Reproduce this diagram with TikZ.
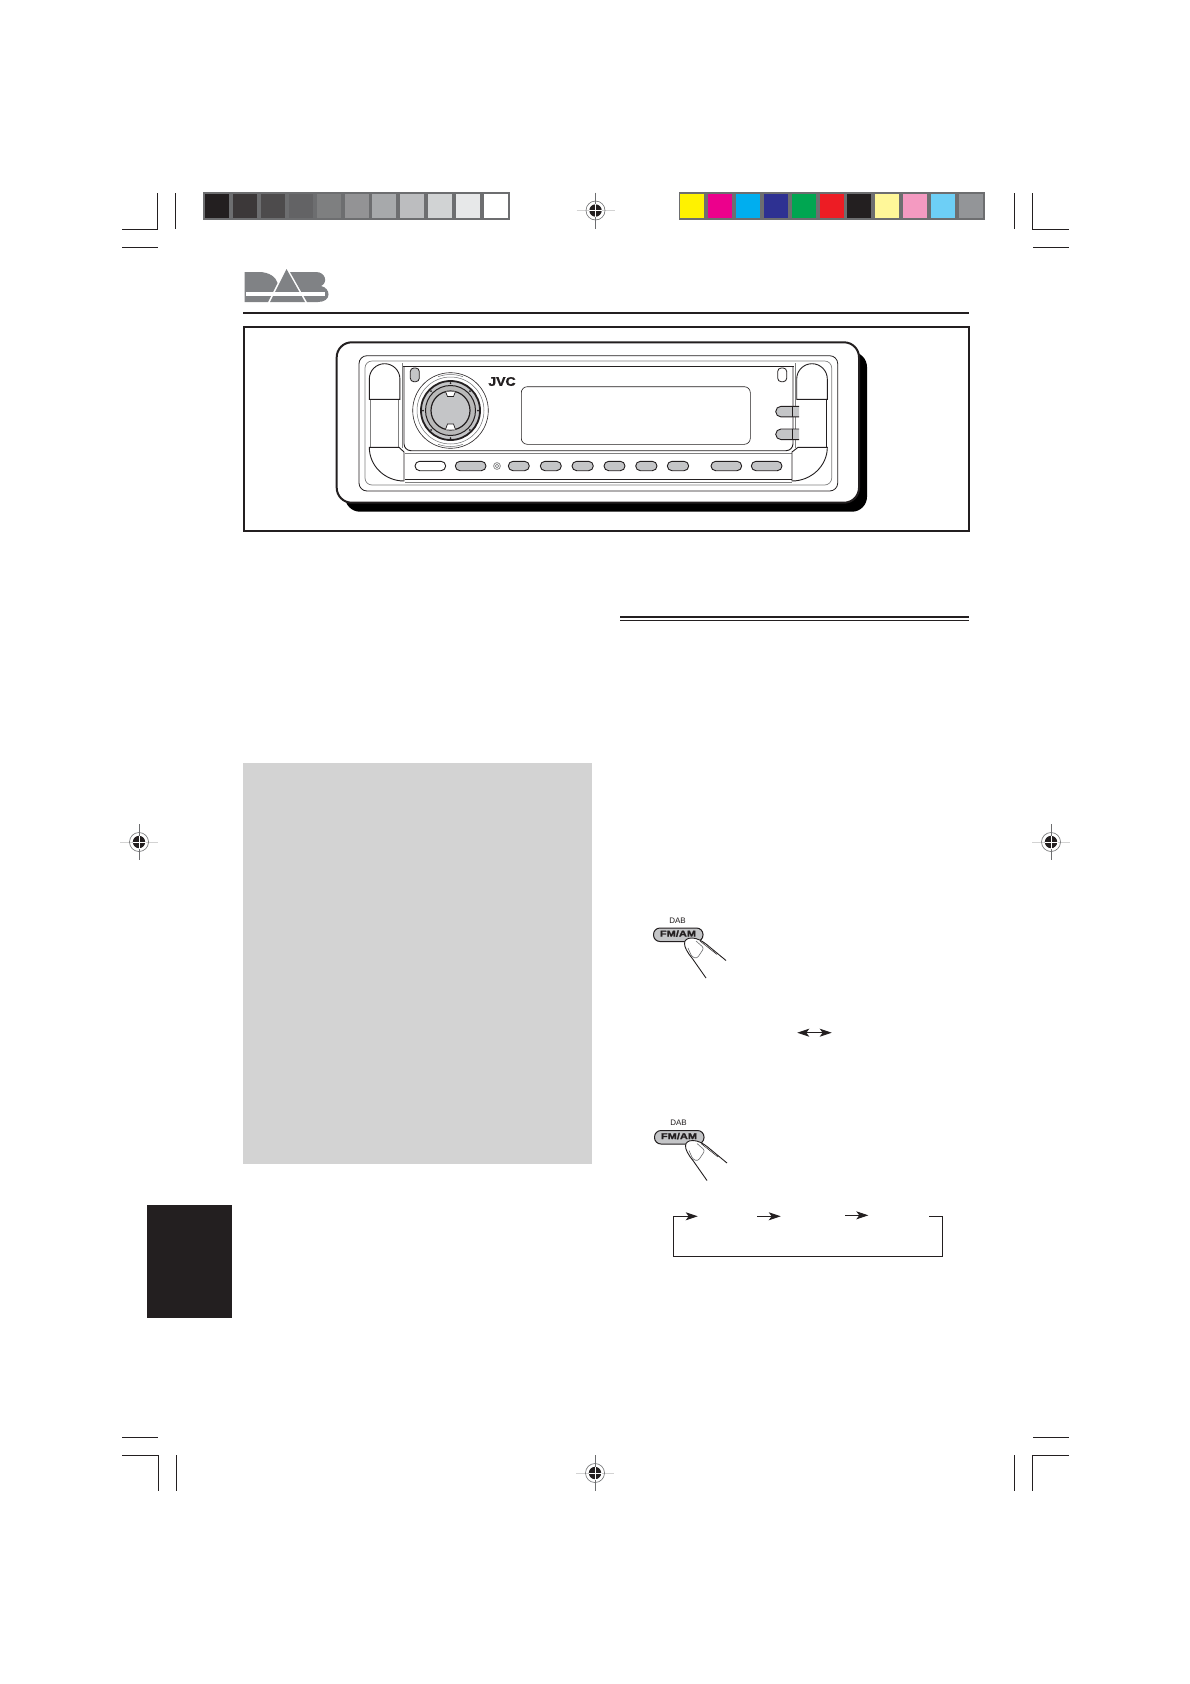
\documentclass[tikz,border=0pt]{standalone}
\usepackage{fontspec}
\setmainfont{Liberation Sans}
\newfontfamily\heavyfont[BoldFeatures={FakeBold=1.5}]{Liberation Sans}
\usetikzlibrary{arrows.meta}
\definecolor{barframe}{HTML}{6D6E70}
\definecolor{logogrey}{HTML}{808285}
\definecolor{btngrey}{HTML}{C4C5C7}
\definecolor{inkblack}{HTML}{231F20}
\definecolor{panelgrey}{HTML}{D3D3D3}
\tikzset{
  cropline/.style={inkblack, line width=0.8pt},
  btnbox/.style={draw=inkblack, fill=btngrey, line width=0.9pt, rounded corners=4.7pt},
  flowline/.style={inkblack, line width=0.9pt},
  flowtip/.style={-{Stealth[length=12pt,width=8pt,inset=3pt]}},
  pics/regmark/.style={code={
    \draw[panelgrey, line width=0.9pt] (-19,0) -- (19,0);
    \draw[barframe, line width=0.7pt] (0,-18) -- (0,18);
    \draw[barframe, line width=0.6pt] (0,0) circle (9.5);
    \fill[inkblack] (0,0) circle (6.2);
    \draw[white, line width=0.7pt] (-6.5,0) -- (6.5,0) (0,-6.5) -- (0,6.5);
  }},
  pics/fmam/.style={code={
    \draw[fill=btngrey, draw=inkblack, line width=1pt, rounded corners=6.5pt] (653.5,928) rectangle (703,941.5);
    \node[font=\fontsize{8}{8}\selectfont, inkblack] (-dab) at (677.5,920.5) {DAB};
    \node[font=\fontsize{8.5}{8.5}\selectfont\heavyfont\bfseries, xscale=1.3, inkblack] (-label) at (678,933.6) {FM/AM};
    \draw[inkblack, line width=0.9pt, fill=white] (706,978) -- (692,958) .. controls (682,946) and (682,938) .. (692,938)
      .. controls (697,938) and (702,941) .. (706,944) -- (726,960.5);
    \draw[white, line width=1.4pt] (697,941.5) -- (720,961);
    \draw[inkblack, line width=0.5pt] (700,941) -- (717,954.5);
    \draw[barframe, line width=0.6pt, rounded corners=2.5pt] (696,941) -- (704,948) -- (697,958.5) -- (692,957) -- (688,948);
  }}
}
\begin{document}
\begin{tikzpicture}[x=1pt, y=-1pt]
\useasboundingbox (0,0) rectangle (1190,1684);
\fill[white] (0,0) rectangle (1190,1684);

% colour bars
\fill[barframe] (203,192) rectangle (510,220);
\foreach \c [count=\i from 0] in {231F20,3C3839,4D4B4C,636365,7E7F80,939395,A7A9AB,BCBDBF,D1D3D4,E7E8E9,FFFFFF} {
  \definecolor{swatch}{HTML}{\c}
  \fill[swatch] (205+27.9*\i,194) rectangle (229+27.9*\i,218);
}
\fill[barframe] (679,192) rectangle (985,220);
\foreach \c [count=\i from 0] in {FFF200,EC008C,00AEEF,2E3192,00A651,ED1C24,231F20,FFF799,F49AC1,6DCFF6,939598} {
  \definecolor{swatch}{HTML}{\c}
  \fill[swatch] (680+27.9*\i,194) rectangle (704+27.9*\i,218);
}

% crop marks
\draw[cropline] (122,229.5) -- (157.5,229.5) -- (157.5,193) (175.5,193) -- (175.5,229) (122,247) -- (158,247);
\draw[cropline] (1014,193) -- (1014,229) (1032.5,193) -- (1032.5,229.5) -- (1069,229.5) (1033,247) -- (1069,247);
\draw[cropline] (122,1437) -- (158,1437) (122,1455) -- (158,1455) -- (158,1491) (176,1455) -- (176,1491);
\draw[cropline] (1033,1437) -- (1069,1437) (1069,1455) -- (1032.5,1455) -- (1032.5,1491) (1014,1455) -- (1014,1491);

\pic at (595.5,210.5) {regmark};
\pic at (139,842) {regmark};
\pic at (1051,842) {regmark};
\pic at (595,1473) {regmark};

% logo
\fill[logogrey] (244.5,272) -- (259,272) .. controls (269,272) and (276,277) .. (277.5,283) -- (268,302) -- (244.5,302) -- cycle;
\fill[logogrey] (286.5,269) -- (305,302) -- (270,302) -- cycle;
\fill[logogrey] (290,272) -- (316,272) .. controls (326,272) and (328,283) .. (321,286) .. controls (331,288) and (332,302) .. (318,302) -- (307,302) -- cycle;
\fill[white] (245.5,292) rectangle (325,296);
\draw[inkblack, line width=2pt] (243,312.5) -- (969,312.5);

% front panel
\draw[inkblack, line width=2pt] (243.5,326.5) rectangle (968.5,530.5);
\fill[black, rounded corners=15pt] (345,352) rectangle (867,511.7);
\draw[inkblack, line width=2pt, fill=white, rounded corners=15pt] (336.7,342.3) rectangle (859,502.7);
\draw[inkblack, line width=0.8pt, rounded corners=8pt] (359,355.7) rectangle (837.7,491);
\draw[gray, line width=0.7pt, rounded corners=7pt] (365,361) rectangle (831.7,485);
\draw[inkblack, line width=0.8pt] (405,479.3) -- (792,479.3);
\draw[gray, line width=0.7pt] (405,482) -- (792,482);
\draw[inkblack, line width=0.9pt, rounded corners=7pt] (404,366.7) -- (404,450.7) -- (793,450.7) -- (793,366.7);
\draw[inkblack, line width=0.9pt] (403,366.7) -- (794,366.7);
\draw[gray, line width=0.6pt] (402,363) -- (402,448) (795,363) -- (795,448);
\draw[gray, line width=0.6pt] (405,453.5) -- (792,453.5);

% side caps
\draw[gray, line width=0.8pt] (370,399) -- (370,447) (398.5,399) -- (398.5,447);
\draw[inkblack, line width=0.9pt] (826,399) -- (826,447);
\draw[inkblack, line width=0.9pt, fill=white] (369.3,399.3) -- (369.3,379) arc[start angle=180, end angle=360, radius=15.3] -- (399.9,399.3) -- cycle;
\draw[inkblack, line width=0.9pt, fill=white] (796.7,399.3) -- (796.7,379) arc[start angle=180, end angle=360, radius=15.3] -- (827.3,399.3) -- cycle;
\draw[inkblack, line width=0.9pt, fill=white] (369.3,447.3) -- (399,447.3) -- (404,452) -- (404,481) .. controls (385,481) and (369.3,466) .. (369.3,447.3) -- cycle;
\draw[inkblack, line width=0.9pt, fill=white] (827.3,447.3) -- (798,447.3) -- (792,452) -- (792,481) .. controls (811,481) and (827.3,466) .. (827.3,447.3) -- cycle;
\draw[inkblack, line width=1.5pt] (369.3,399.3) -- (399.9,399.3) (796.7,399.3) -- (827.3,399.3) (369.3,447.3) -- (399,447.3) (798,447.3) -- (827.3,447.3);

% lamps and side buttons
\draw[inkblack, line width=0.8pt, fill=btngrey, rounded corners=3.5pt] (410.3,368) rectangle (419.3,381.7);
\draw[inkblack, line width=0.8pt, fill=white, rounded corners=3.5pt] (777.7,368) rectangle (786.7,381.7);
\foreach \y in {406.3,429} {
  \draw[inkblack, line width=0.9pt, fill=btngrey] (799,\y) -- (781,\y) arc[start angle=-90, end angle=-270, radius=5.3] -- (799,\y+10.6);
  \draw[inkblack, line width=0.5pt] (792.7,\y) -- (792.7,\y+10.6);
}

% dial
\draw[inkblack, line width=0.6pt, fill=white] (450.5,410.5) circle (37.8);
\draw[barframe, line width=0.5pt] (450.5,410.5) circle (33.5);
\draw[barframe, line width=0.5pt] (450.5,410.5) ++(250:36) arc[start angle=250, end angle=290, radius=36];
\draw[barframe, line width=0.5pt] (450.5,410.5) ++(70:36) arc[start angle=70, end angle=110, radius=36];
\draw[inkblack, line width=1.8pt, fill=btngrey] (450.5,410.5) circle (29.5);
\draw[inkblack, line width=1pt, fill=gray!55] (450.5,410.5) circle (25);
\draw[inkblack, line width=1.2pt, fill=btngrey] (450.5,410.5) circle (19.5);
\foreach \a in {0,45,...,315} {
  \fill[inkblack] (450.5,410.5) ++(\a:27.5) circle (1);
}
\draw[inkblack, line width=0.7pt, fill=white] (445.5,391.5) -- (447.5,396.5) -- (453.5,396.5) -- (455.5,391.5);
\draw[inkblack, line width=0.7pt, fill=white] (445.5,429.5) -- (447.5,424) -- (453.5,424) -- (455.5,429.5);
\node[font=\fontsize{12.5}{12.5}\selectfont\heavyfont\bfseries, xscale=1.12, inkblack, inner sep=0pt] (brand) at (502,381.5) {JVC};

% display
\draw[inkblack, line width=0.6pt, rounded corners=6pt] (521.3,386.7) rectangle (750.3,444.3);

% bottom row
\draw[btnbox, fill=white] (415,461.3) rectangle (445.7,470.7);
\foreach \xa/\xb in {455.3/486,508.3/529.3,540.3/561.3,572/593.3,604/625,635.7/657,667.3/688.7,711/741.7,751.3/782} {
  \draw[btnbox] (\xa,461.3) rectangle (\xb,470.7);
}
\draw[gray, line width=0.7pt] (497,466) circle (3.4);
\draw[barframe, line width=0.5pt] (497,466) circle (1.7);

% page blocks
\draw[inkblack, line width=2pt] (620,616.5) -- (969,616.5);
\draw[inkblack, line width=0.9pt] (620,620.8) -- (969,620.8);
\fill[panelgrey] (243,763) rectangle (592,1164);
\fill[inkblack] (147,1205) rectangle (232,1318);

% buttons
\pic (first) at (0,0) {fmam};
\pic (second) at (1,202.5) {fmam};

% switch arrow
\coordinate (swl) at (797.3,1032.7);
\coordinate (swr) at (831.7,1032.7);
\draw[flowline, {Stealth[length=12pt,width=8pt,inset=3pt]}-{Stealth[length=12pt,width=8pt,inset=3pt]}] (swl) -- (swr);

% band loop
\coordinate (loopa) at (697.7,1216.3);
\coordinate (loopb) at (929,1216.3);
\coordinate (nxa) at (757.3,1216.3);
\coordinate (nxb) at (780.7,1216.3);
\coordinate (nxc) at (845,1215.3);
\coordinate (nxd) at (868.3,1215.3);
\draw[flowline, flowtip] (loopb) -- (942.3,1216.3) -- (942.3,1256.3) -- (673.3,1256.3) -- (673.3,1216.3) -- (loopa);
\draw[flowline, flowtip] (nxa) -- (nxb);
\draw[flowline, flowtip] (nxc) -- (nxd);
\end{tikzpicture}
\end{document}
